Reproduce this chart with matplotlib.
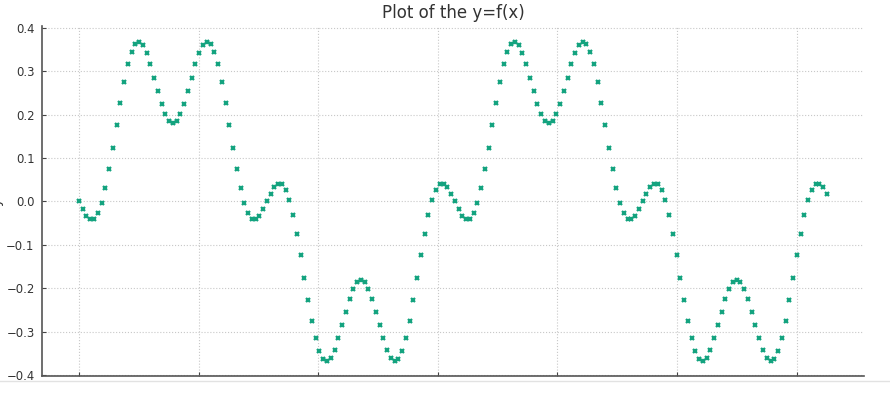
import numpy as np
import matplotlib
matplotlib.use("Agg")
import matplotlib.pyplot as plt
from matplotlib.lines import Line2D

# x sampled every pi/100 over one full turn (200 points)
x = np.linspace(0, 2*np.pi, 200, endpoint=False)

# y values, first 100 points (one period)
y_first = [
    0.000, -0.018, -0.033, -0.041, -0.040, -0.027, -0.004, 0.031, 0.074, 0.124,
    0.176, 0.228, 0.276, 0.316, 0.345, 0.363, 0.367, 0.360, 0.342, 0.316,
    0.285, 0.254, 0.224, 0.201, 0.185, 0.180, 0.185, 0.201, 0.224, 0.254,
    0.285, 0.316, 0.342, 0.360, 0.367, 0.363, 0.345, 0.316, 0.276, 0.228,
    0.176, 0.124, 0.074, 0.031, -0.004, -0.027, -0.040, -0.041, -0.033, -0.018,
    0.000, 0.018, 0.033, 0.041, 0.040, 0.027, 0.004, -0.031, -0.074, -0.124,
    -0.176, -0.228, -0.276, -0.316, -0.345, -0.363, -0.367, -0.360, -0.342, -0.316,
    -0.285, -0.254, -0.224, -0.201, -0.185, -0.180, -0.185, -0.201, -0.224, -0.254,
    -0.285, -0.316, -0.342, -0.360, -0.367, -0.363, -0.345, -0.316, -0.276, -0.228,
    -0.176, -0.124, -0.074, -0.031, 0.004, 0.027, 0.040, 0.041, 0.033, 0.018,
]
# second 100 points (second period, same readings)
y_second = [
    0.000, -0.018, -0.033, -0.041, -0.040, -0.027, -0.004, 0.031, 0.074, 0.124,
    0.176, 0.228, 0.276, 0.316, 0.345, 0.363, 0.367, 0.360, 0.342, 0.316,
    0.285, 0.254, 0.224, 0.201, 0.185, 0.180, 0.185, 0.201, 0.224, 0.254,
    0.285, 0.316, 0.342, 0.360, 0.367, 0.363, 0.345, 0.316, 0.276, 0.228,
    0.176, 0.124, 0.074, 0.031, -0.004, -0.027, -0.040, -0.041, -0.033, -0.018,
    0.000, 0.018, 0.033, 0.041, 0.040, 0.027, 0.004, -0.031, -0.074, -0.124,
    -0.176, -0.228, -0.276, -0.316, -0.345, -0.363, -0.367, -0.360, -0.342, -0.316,
    -0.285, -0.254, -0.224, -0.201, -0.185, -0.180, -0.185, -0.201, -0.224, -0.254,
    -0.285, -0.316, -0.342, -0.360, -0.367, -0.363, -0.345, -0.316, -0.276, -0.228,
    -0.176, -0.124, -0.074, -0.031, 0.004, 0.027, 0.040, 0.041, 0.033, 0.018,
]
y = np.array(y_first + y_second)

y_ticks = [-0.4, -0.3, -0.2, -0.1, 0.0, 0.1, 0.2, 0.3, 0.4]
x_ticks = [0, 1, 2, 3, 4, 5, 6]

fig = plt.figure(figsize=(8.9, 3.99), dpi=100)
ax = fig.add_axes([0.0467, 0.0564, 0.9244, 0.8774])

ax.plot(x, y, linestyle='none', marker='x', markersize=3, markeredgewidth=1.6,
        color='#14a37f')

ax.set_title('Plot of the y=f(x)', fontsize=12, color='#333333', pad=6)
ax.set_ylabel('y', fontsize=10, color='#333333')
ax.yaxis.set_label_coords(-0.046, 0.5)

ax.set_xticks(x_ticks)
ax.set_yticks(y_ticks)
ax.tick_params(axis='both', direction='in', length=3, color='#444444',
               labelcolor='#333333', labelsize=8.4, pad=5)
ax.tick_params(axis='x', labelbottom=False)

ax.grid(True, linestyle=':', linewidth=0.8, color='#c8c8c8')
ax.set_axisbelow(True)
for side in ['top', 'right']:
    ax.spines[side].set_visible(False)
for side in ['left', 'bottom']:
    ax.spines[side].set_color('#555555')
    ax.spines[side].set_linewidth(1.2)

# thin light border seen under the plot
fig.add_artist(Line2D([0, 1], [1 - 381/399, 1 - 381/399],
                      transform=fig.transFigure, color='#e2e2e2', linewidth=1))

fig.savefig('out.png', dpi=100)
